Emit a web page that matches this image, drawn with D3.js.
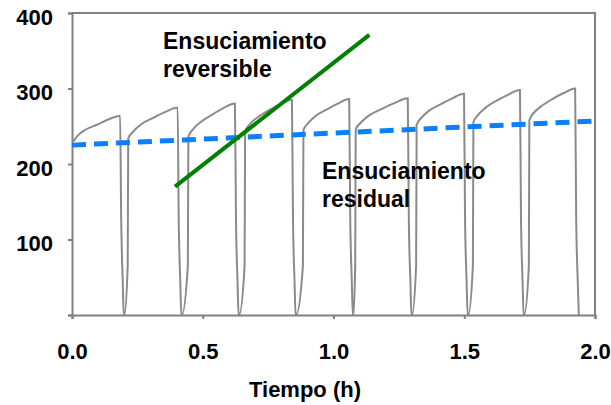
<!DOCTYPE html>
<html>
<head>
<meta charset="utf-8">
<script src="https://cdn.jsdelivr.net/npm/d3@7"></script>
<style>
  html, body { margin: 0; padding: 0; background: #fff; }
  svg { display: block; }
  text { font-family: "Liberation Sans", Arial, sans-serif; font-weight: bold; fill: #000; }
</style>
</head>
<body>
<svg id="chart" width="611" height="405"></svg>
<script>
// ---- data ----
const xTicks = [0, 0.5, 1.0, 1.5, 2.0];
const yTicks = [0, 100, 200, 300, 400];
const xTitle = "Tiempo (h)";

// Transmembrane pressure (gray sawtooth): [time h, value]
const pressureCycle1 = [[0.005,230],[0.023,238],[0.050,245],[0.095,252],[0.139,259],[0.184,264],[0.188,130],[0.194,45],[0.198,0],[0.200,0],[0.213,65]];
const pressureCycle2 = [[0.215,234],[0.234,243],[0.262,252],[0.310,261],[0.357,269],[0.404,275],[0.408,130],[0.414,45],[0.418,0],[0.420,0],[0.443,65]];
const pressureCycle3 = [[0.445,236],[0.463,246],[0.490,255],[0.534,265],[0.579,274],[0.623,280],[0.627,130],[0.633,45],[0.637,0],[0.639,0],[0.660,65]];
const pressureCycle4 = [[0.662,243],[0.680,253],[0.707,261],[0.752,271],[0.796,279],[0.841,285],[0.845,130],[0.851,45],[0.855,0],[0.857,0],[0.883,65]];
const pressureCycle5 = [[0.885,245],[0.903,254],[0.929,263],[0.973,272],[1.016,280],[1.060,286],[1.064,130],[1.070,45],[1.074,0],[1.076,0],[1.083,65]];
const pressureCycle6 = [[1.085,246],[1.105,255],[1.135,264],[1.185,273],[1.234,281],[1.284,287],[1.288,130],[1.294,45],[1.298,0],[1.300,0],[1.316,65]];
const pressureCycle7 = [[1.318,252],[1.336,261],[1.363,270],[1.409,279],[1.454,287],[1.499,293],[1.503,130],[1.509,45],[1.513,0],[1.515,0],[1.533,65]];
const pressureCycle8 = [[1.535,255],[1.553,265],[1.580,274],[1.624,284],[1.669,292],[1.713,298],[1.717,130],[1.723,45],[1.727,0],[1.729,0],[1.747,65]];
const pressureCycle9 = [[1.749,258],[1.767,268],[1.793,276],[1.837,286],[1.880,294],[1.924,300],[1.928,130],[1.934,45],[1.938,0]];

// Residual fouling trend (blue dashed)
const residualTime = [0, 2.0];
const residualValue = [225, 257];
// Reversible fouling trend (green)
const reversibleTime = [0.394, 1.137];
const reversibleValue = [170, 371];

const label1 = ["Ensuciamiento", "reversible"];
const label2 = ["Ensuciamiento", "residual"];

// ---- chart ----
const svg = d3.select("#chart");
const mLeft = 72, mRight = 595, mTop = 13, mBottom = 315;
const x = d3.scaleLinear().domain([0, 2]).range([mLeft, mRight]);
const y = d3.scaleLinear().domain([0, 400]).range([mBottom, mTop]);
const axisColor = "#808080";

// frame (top & right)
svg.append("path")
  .attr("d", `M${x(0)},${y(400)}H${x(2)}V${y(0)}`)
  .attr("fill", "none").attr("stroke", axisColor).attr("stroke-width", 2);

// gray sawtooth
const pressure = [].concat(pressureCycle1, pressureCycle2, pressureCycle3, pressureCycle4,
  pressureCycle5, pressureCycle6, pressureCycle7, pressureCycle8, pressureCycle9);
const line = d3.line().x(d => x(d[0])).y(d => y(d[1]));
const smoothLine = d3.line().x(d => x(d[0])).y(d => y(d[1])).curve(d3.curveMonotoneX);
svg.append("path").datum(pressure)
  .attr("d", smoothLine)
  .attr("fill", "none").attr("stroke", "#8a8a8a").attr("stroke-width", 2)
  .attr("stroke-linejoin", "miter");

// axes
const yAxis = d3.axisLeft(y).tickValues(yTicks).tickSize(4).tickPadding(15)
  .tickFormat(d => d === 0 ? "" : d3.format("d")(d));
const gy = svg.append("g").attr("transform", `translate(${mLeft},0)`).call(yAxis);
const xAxis = d3.axisBottom(x).tickValues(xTicks).tickSize(4).tickPadding(24)
  .tickFormat(d3.format(".1f"));
const gx = svg.append("g").attr("transform", `translate(0,${mBottom})`).call(xAxis);
[gx, gy].forEach(g => {
  g.select(".domain").attr("stroke", axisColor).attr("stroke-width", 2);
  g.selectAll(".tick line").attr("stroke", axisColor).attr("stroke-width", 2);
  g.selectAll("text").style("font-size", "22px").attr("fill", "#000");
});
gy.selectAll(".tick text").attr("dy", "0.5em");

// residual (blue dashed)
const resData = residualTime.map((t, i) => [t, residualValue[i]]);
svg.append("path").datum(resData).attr("d", line)
  .attr("fill", "none").attr("stroke", "#0a7fff").attr("stroke-width", 5)
  .attr("stroke-dasharray", "14,8");

// reversible (green)
const revData = reversibleTime.map((t, i) => [t, reversibleValue[i]]);
svg.append("path").datum(revData).attr("d", line)
  .attr("fill", "none").attr("stroke", "#008000").attr("stroke-width", 4);

// annotations
function addLabel(lines, px, py) {
  const t = svg.append("text").attr("x", px).attr("y", py).style("font-size", "23px");
  lines.forEach((s, i) => t.append("tspan").attr("x", px).attr("dy", i === 0 ? 0 : 28).text(s));
}
addLabel(label1, 163, 49);
addLabel(label2, 322, 179);

// axis title
svg.append("text").attr("x", 305).attr("y", 397).attr("text-anchor", "middle")
  .style("font-size", "22px").text(xTitle);
</script>
</body>
</html>
